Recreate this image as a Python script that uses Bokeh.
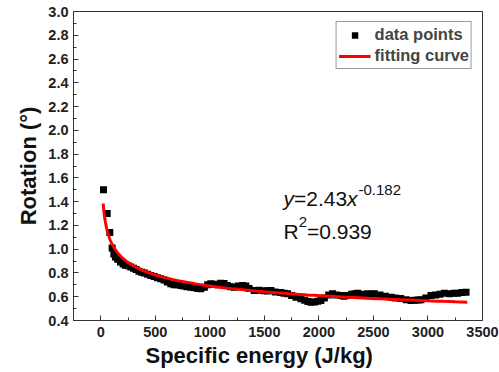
import numpy as np
from bokeh.plotting import figure
from bokeh.models import (FixedTicker, Label, Legend, LegendItem, Title, Range1d,
                          NumeralTickFormatter)
from bokeh.embed import file_html
from bokeh.resources import INLINE

# ---- data ----
energy = [25, 59, 83, 104, 120, 135, 155, 181, 205, 226, 250, 275, 300, 325, 350, 375,
          400, 430, 459, 490, 520, 550, 580, 610, 642, 670, 700, 734, 760, 790, 826,
          860, 890, 917, 950, 980, 1009, 1040, 1070, 1100, 1130, 1160, 1190, 1223,
          1260, 1300, 1330, 1360, 1407, 1450, 1500, 1530, 1560, 1600, 1650, 1680,
          1713, 1750, 1790, 1835, 1870, 1900, 1927, 1960, 1990, 2018, 2050, 2090,
          2125, 2160, 2202, 2230, 2263, 2300, 2330, 2355, 2400, 2450, 2480, 2508,
          2560, 2610, 2661, 2700, 2750, 2800, 2844, 2880, 2910, 2936, 2980, 3028,
          3070, 3110, 3150, 3200, 3240, 3272, 3310, 3349]
rotation = [1.50, 1.30, 1.14, 1.01, 0.96, 0.935, 0.915, 0.893, 0.875, 0.865, 0.86,
            0.85, 0.84, 0.83, 0.815, 0.805, 0.80, 0.79, 0.779, 0.77, 0.76, 0.751,
            0.74, 0.725, 0.71, 0.70, 0.70, 0.695, 0.69, 0.685, 0.68, 0.675, 0.67,
            0.667, 0.68, 0.70, 0.709, 0.705, 0.70, 0.714, 0.712, 0.695, 0.685, 0.68,
            0.69, 0.695, 0.69, 0.67, 0.652, 0.655, 0.65, 0.648, 0.652, 0.64, 0.635,
            0.63, 0.625, 0.61, 0.595, 0.583, 0.57, 0.56, 0.554, 0.556, 0.562, 0.568,
            0.59, 0.615, 0.625, 0.615, 0.61, 0.605, 0.61, 0.62, 0.625, 0.63, 0.62,
            0.625, 0.62, 0.625, 0.615, 0.605, 0.596, 0.59, 0.585, 0.575, 0.568, 0.57,
            0.572, 0.574, 0.59, 0.61, 0.615, 0.62, 0.63, 0.625, 0.63, 0.63, 0.635,
            0.638]

# fitting curve y = a * x^b (coefficients shown in the chart)
fit_a = 2.43
fit_b = -0.182
fit_x_start = 22
fit_x_end = 3360
fit_x = np.geomspace(fit_x_start, fit_x_end, 300)
fit_y = fit_a * fit_x ** fit_b

x_ticks = [0, 500, 1000, 1500, 2000, 2500, 3000, 3500]
x_minor = [-250, 250, 750, 1250, 1750, 2250, 2750, 3250]
y_ticks = [0.4, 0.6, 0.8, 1.0, 1.2, 1.4, 1.6, 1.8, 2.0, 2.2, 2.4, 2.6, 2.8, 3.0]
y_minor = [0.5, 0.7, 0.9, 1.1, 1.3, 1.5, 1.7, 1.9, 2.1, 2.3, 2.5, 2.7, 2.9]

x_label = "Specific energy (J/kg)"
y_label = "Rotation (°)"

FONT = "Liberation Sans"
AX = "#333333"

p = figure(width=499, height=372, output_backend="svg", toolbar_location=None,
           x_range=Range1d(-250, 3500), y_range=Range1d(0.4, 3.0),
           min_border_left=73, min_border_right=17, min_border_top=11,
           min_border_bottom=52)
p.grid.visible = False
p.outline_line_color = AX
p.outline_line_width = 1
p.background_fill_color = "white"
p.border_fill_color = "white"

p.xaxis.ticker = FixedTicker(ticks=x_ticks, minor_ticks=x_minor)
p.yaxis.ticker = FixedTicker(ticks=y_ticks, minor_ticks=y_minor)
p.xaxis.formatter = NumeralTickFormatter(format="0")
p.yaxis.formatter = NumeralTickFormatter(format="0.0")

for ax in (p.xaxis[0], p.yaxis[0]):
    ax.major_tick_in = 5
    ax.major_tick_out = 0
    ax.minor_tick_in = 3
    ax.minor_tick_out = 0
    ax.axis_line_color = AX
    ax.major_tick_line_color = AX
    ax.minor_tick_line_color = AX
    ax.major_label_text_font = FONT
    ax.major_label_text_font_style = "bold"
    ax.major_label_text_font_size = "14.5px"
    ax.major_label_text_color = "#222222"

p.xaxis.major_label_standoff = 6
p.yaxis.major_label_standoff = 5

p.yaxis.axis_label = y_label
p.yaxis.axis_label_text_font = FONT
p.yaxis.axis_label_text_font_style = "bold"
p.yaxis.axis_label_text_font_size = "22px"
p.yaxis.axis_label_text_color = "#111111"
p.yaxis.axis_label_standoff = 4

p.add_layout(Title(text=x_label, align="left", offset=72, text_font=FONT,
                   text_font_style="bold", text_font_size="22px",
                   text_color="#111111", standoff=2), "below")

r_pts = p.scatter(energy, rotation, marker="square", size=7,
                  fill_color="black", line_color=None)
r_fit = p.line(fit_x, fit_y, line_color="#ff0000", line_width=3)

legend = Legend(items=[LegendItem(label="data points", renderers=[r_pts]),
                       LegendItem(label="fitting curve", renderers=[r_fit])],
                location="top_right", margin=10, padding=2, spacing=0,
                glyph_width=32, glyph_height=16, label_height=21,
                label_standoff=4, label_text_font=FONT,
                label_text_font_style="bold", label_text_font_size="16.5px",
                border_line_color=AX, border_line_width=1,
                background_fill_color="white", background_fill_alpha=1)
p.add_layout(legend)

# equation annotation
eq_x = 1675
eq_y = 1.426
r2_y = 1.149
common = dict(x_units="data", y_units="data", text_font=FONT, text_color="#111111",
              text_baseline="alphabetic")
p.add_layout(Label(x=eq_x, y=eq_y, text="y", text_font_size="21px",
                   text_font_style="italic", **common))
p.add_layout(Label(x=eq_x, y=eq_y, x_offset=10.5, text="=2.43",
                   text_font_size="21px", **common))
p.add_layout(Label(x=eq_x, y=eq_y, x_offset=63.6, text="x", text_font_size="21px",
                   text_font_style="italic", **common))
p.add_layout(Label(x=eq_x, y=eq_y, x_offset=75, y_offset=9, text="-0.182",
                   text_font_size="15px", **common))
p.add_layout(Label(x=eq_x, y=r2_y, text="R", text_font_size="21px", **common))
p.add_layout(Label(x=eq_x, y=r2_y, x_offset=15.2, y_offset=9, text="2",
                   text_font_size="15px", **common))
p.add_layout(Label(x=eq_x, y=r2_y, x_offset=23.5, text="=0.939",
                   text_font_size="21px", **common))

# panel letter remnant in the top-left corner
p.add_layout(Label(x=1, y=12, x_units="canvas", y_units="canvas", text=")",
                   text_font=FONT, text_font_style="bold", text_font_size="12px",
                   text_baseline="alphabetic", text_color="#111111"))

open("out.html", "w").write(file_html(p, INLINE))
